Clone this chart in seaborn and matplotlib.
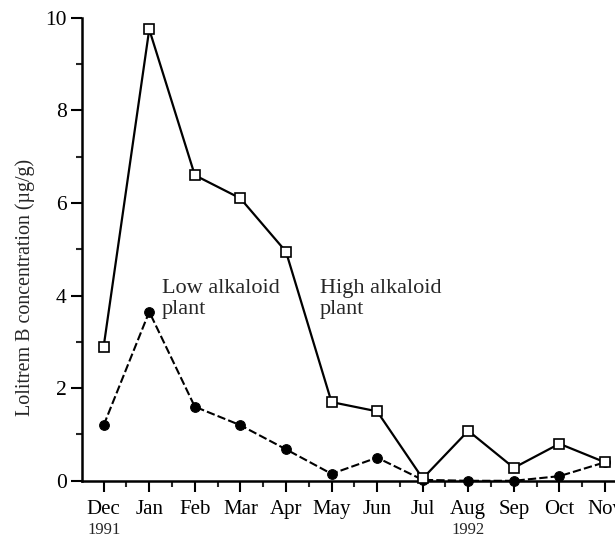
import matplotlib
matplotlib.use("Agg")
import matplotlib.pyplot as plt
import seaborn as sns
import pandas as pd
from matplotlib.ticker import MultipleLocator

sns.set_style("ticks")
plt.rcParams['font.family'] = ['Liberation Serif', 'DejaVu Serif']

months = ["Dec", "Jan", "Feb", "Mar", "Apr", "May", "Jun", "Jul", "Aug", "Sep", "Oct", "Nov"]
high_alkaloid = [2.9, 9.75, 6.6, 6.1, 4.95, 1.7, 1.5, 0.05, 1.08, 0.28, 0.8, 0.4]
low_alkaloid = [1.2, 3.65, 1.6, 1.2, 0.68, 0.15, 0.5, 0.02, 0.0, 0.0, 0.1, 0.4]
y_ticks = [0, 2, 4, 6, 8, 10]

idx = list(range(len(months)))
df_high = pd.DataFrame({"x": idx, "y": high_alkaloid})
df_low = pd.DataFrame({"x": idx, "y": low_alkaloid})

fig = plt.figure(figsize=(6.15, 5.39), dpi=100)
ax = fig.add_axes([0.133, 0.108, 0.867, 0.859])

sns.lineplot(data=df_low, x="x", y="y", ax=ax, color="black", linewidth=1.5,
             linestyle=(0, (4, 1.5)), marker="o", markersize=7,
             markerfacecolor="black", markeredgecolor="black", clip_on=False, zorder=3)
sns.lineplot(data=df_high, x="x", y="y", ax=ax, color="black", linewidth=1.6,
             marker="s", markersize=7, markerfacecolor="white",
             markeredgecolor="black", markeredgewidth=1.2, clip_on=False, zorder=4)

ax.set_xlim(-0.48, 11.22)
ax.set_ylim(0, 10)
ax.set_xticks(idx)
ax.set_xticklabels(months, fontsize=15)
ax.xaxis.set_minor_locator(MultipleLocator(0.5))
ax.set_yticks(y_ticks)
ax.set_yticklabels([str(v) for v in y_ticks], fontsize=15.5)
ax.yaxis.set_minor_locator(MultipleLocator(1))
ax.tick_params(axis="both", which="major", length=8, width=1.5, direction="out", colors="black")
ax.tick_params(axis="both", which="minor", length=4, width=1.5, direction="out")
ax.tick_params(axis="x", which="major", pad=6)
ax.tick_params(axis="y", which="major", pad=3)

for s in ["top", "right"]:
    ax.spines[s].set_visible(False)
for s in ["left", "bottom"]:
    ax.spines[s].set_linewidth(1.8)
    ax.spines[s].set_color("black")

ax.set_xlabel("")
ax.set_ylabel("Lolitrem B concentration (µg/g)", fontsize=14.4)
ax.yaxis.set_label_coords(-0.087, 0.417)

ax.text(0, -0.089, "1991", transform=ax.get_xaxis_transform(), ha="center",
        va="top", fontsize=12)
ax.text(8, -0.089, "1992", transform=ax.get_xaxis_transform(), ha="center",
        va="top", fontsize=12)

ax.text(1.27, 4.36, "Low alkaloid\nplant", fontsize=16, ha="left", va="top", linespacing=1.15)
ax.text(4.75, 4.36, "High alkaloid\nplant", fontsize=16, ha="left", va="top", linespacing=1.15)

fig.savefig("out.png", dpi=100)
